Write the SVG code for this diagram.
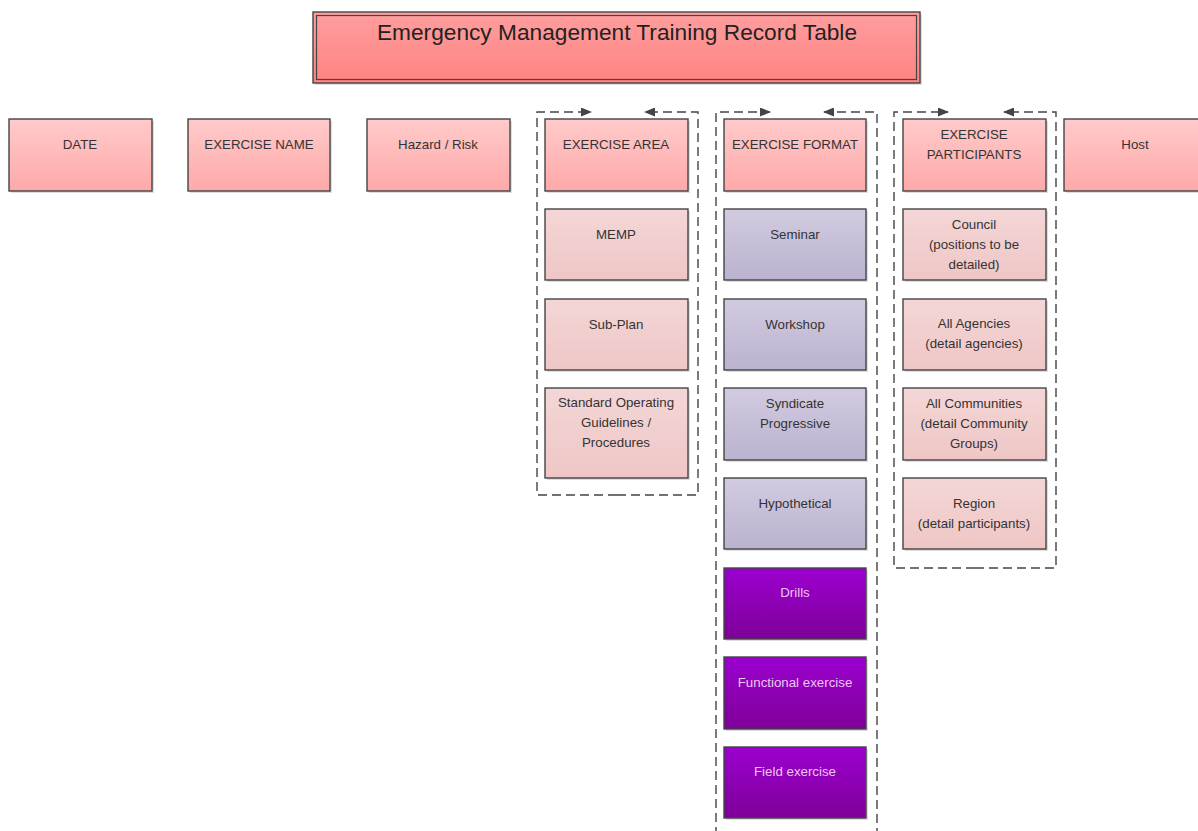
<svg xmlns="http://www.w3.org/2000/svg" width="1198" height="831" viewBox="0 0 1198 831">
<style>
text{font-family:"Liberation Sans",Arial,sans-serif;font-size:13.3px;fill:#333;text-anchor:middle}
.box{stroke:#444;stroke-width:1.4}
.hdr{fill:url(#gH)}
.sub{fill:url(#gS)}
.lav{fill:url(#gL)}
.pur{fill:url(#gP)}
.sh{fill:#000;opacity:0.13}
.dash{fill:none;stroke:#444;stroke-width:1.4;stroke-dasharray:9,5;marker-end:url(#ah)}
.wt{fill:#efc6f3}
</style>
<defs>
<linearGradient id="gT" x1="0" y1="0" x2="0" y2="1"><stop offset="0" stop-color="#ff9e9e"/><stop offset="1" stop-color="#ff8282"/></linearGradient>
<linearGradient id="gH" x1="0" y1="0" x2="0" y2="1"><stop offset="0" stop-color="#ffcaca"/><stop offset="1" stop-color="#ffa9a9"/></linearGradient>
<linearGradient id="gS" x1="0" y1="0" x2="0" y2="1"><stop offset="0" stop-color="#f4d6d6"/><stop offset="1" stop-color="#efc6c6"/></linearGradient>
<linearGradient id="gL" x1="0" y1="0" x2="0" y2="1"><stop offset="0" stop-color="#d2cbe0"/><stop offset="1" stop-color="#bbb2cf"/></linearGradient>
<linearGradient id="gP" x1="0" y1="0" x2="0" y2="1"><stop offset="0" stop-color="#9c00cf"/><stop offset="1" stop-color="#7e0099"/></linearGradient>
<marker id="ah" viewBox="0 0 11 9" refX="10" refY="4.5" markerWidth="11" markerHeight="9" orient="auto" markerUnits="userSpaceOnUse"><path d="M0,0 L11,4.5 L0,9 z" fill="#444"/></marker>
</defs>

<g id="title">
<rect x="315" y="14" width="607" height="71" class="sh"/>
<rect x="313" y="12" width="607" height="71" fill="url(#gT)" stroke="#444" stroke-width="1.4"/>
<rect x="316.5" y="15.5" width="600" height="64" fill="none" stroke="#444" stroke-width="1.2"/>
<text x="617" y="40" style="font-size:22.7px;fill:#222">Emergency Management Training Record Table</text>
</g>

<g id="connectors">
<path class="dash" d="M617,495 H537 V112 H591"/>
<path class="dash" d="M617,495 H698 V112 H645"/>
<path class="dash" d="M796,840 H716 V112 H770"/>
<path class="dash" d="M796,840 H877 V112 H824"/>
<path class="dash" d="M975,568 H894 V112 H948"/>
<path class="dash" d="M975,568 H1056 V112 H1004"/>
</g>

<g id="date"><rect x="11" y="121" width="143" height="72" class="sh"/><rect x="9" y="119" width="143" height="72" class="box hdr"/><text x="80" y="149">DATE</text></g>
<g id="exercise-name"><rect x="190" y="121" width="142" height="72" class="sh"/><rect x="188" y="119" width="142" height="72" class="box hdr"/><text x="259" y="149">EXERCISE NAME</text></g>
<g id="hazard"><rect x="369" y="121" width="143" height="72" class="sh"/><rect x="367" y="119" width="143" height="72" class="box hdr"/><text x="438" y="149">Hazard / Risk</text></g>
<g id="exercise-area"><rect x="547" y="121" width="143" height="72" class="sh"/><rect x="545" y="119" width="143" height="72" class="box hdr"/><text x="616" y="149">EXERCISE AREA</text></g>
<g id="exercise-format"><rect x="726" y="121" width="142" height="72" class="sh"/><rect x="724" y="119" width="142" height="72" class="box hdr"/><text x="795" y="149">EXERCISE FORMAT</text></g>
<g id="exercise-participants"><rect x="905" y="121" width="143" height="72" class="sh"/><rect x="903" y="119" width="143" height="72" class="box hdr"/><text x="974" y="139">EXERCISE</text><text x="974" y="159">PARTICIPANTS</text></g>
<g id="host"><rect x="1066" y="121" width="140" height="72" class="sh"/><rect x="1064" y="119" width="140" height="72" class="box hdr"/><text x="1135" y="149">Host</text></g>

<g id="memp"><rect x="547" y="211" width="143" height="71" class="sh"/><rect x="545" y="209" width="143" height="71" class="box sub"/><text x="616" y="239">MEMP</text></g>
<g id="sub-plan"><rect x="547" y="301" width="143" height="71" class="sh"/><rect x="545" y="299" width="143" height="71" class="box sub"/><text x="616" y="329">Sub-Plan</text></g>
<g id="sog"><rect x="547" y="390" width="143" height="90" class="sh"/><rect x="545" y="388" width="143" height="90" class="box sub"/><text x="616" y="407">Standard Operating</text><text x="616" y="427">Guidelines /</text><text x="616" y="447">Procedures</text></g>

<g id="seminar"><rect x="726" y="211" width="142" height="71" class="sh"/><rect x="724" y="209" width="142" height="71" class="box lav"/><text x="795" y="239">Seminar</text></g>
<g id="workshop"><rect x="726" y="301" width="142" height="71" class="sh"/><rect x="724" y="299" width="142" height="71" class="box lav"/><text x="795" y="329">Workshop</text></g>
<g id="syndicate"><rect x="726" y="390" width="142" height="72" class="sh"/><rect x="724" y="388" width="142" height="72" class="box lav"/><text x="795" y="408">Syndicate</text><text x="795" y="428">Progressive</text></g>
<g id="hypothetical"><rect x="726" y="480" width="142" height="71" class="sh"/><rect x="724" y="478" width="142" height="71" class="box lav"/><text x="795" y="508">Hypothetical</text></g>
<g id="drills"><rect x="726" y="570" width="142" height="71" class="sh"/><rect x="724" y="568" width="142" height="71" class="box pur"/><text x="795" y="597" class="wt">Drills</text></g>
<g id="functional"><rect x="726" y="659" width="142" height="72" class="sh"/><rect x="724" y="657" width="142" height="72" class="box pur"/><text x="795" y="687" class="wt">Functional exercise</text></g>
<g id="field"><rect x="726" y="749" width="142" height="71" class="sh"/><rect x="724" y="747" width="142" height="71" class="box pur"/><text x="795" y="776" class="wt">Field exercise</text></g>

<g id="council"><rect x="905" y="211" width="143" height="71" class="sh"/><rect x="903" y="209" width="143" height="71" class="box sub"/><text x="974" y="229">Council</text><text x="974" y="249">(positions to be</text><text x="974" y="269">detailed)</text></g>
<g id="agencies"><rect x="905" y="301" width="143" height="71" class="sh"/><rect x="903" y="299" width="143" height="71" class="box sub"/><text x="974" y="328">All Agencies</text><text x="974" y="348">(detail agencies)</text></g>
<g id="communities"><rect x="905" y="390" width="143" height="72" class="sh"/><rect x="903" y="388" width="143" height="72" class="box sub"/><text x="974" y="408">All Communities</text><text x="974" y="428">(detail Community</text><text x="974" y="448">Groups)</text></g>
<g id="region"><rect x="905" y="480" width="143" height="71" class="sh"/><rect x="903" y="478" width="143" height="71" class="box sub"/><text x="974" y="508">Region</text><text x="974" y="528">(detail participants)</text></g>
</svg>
